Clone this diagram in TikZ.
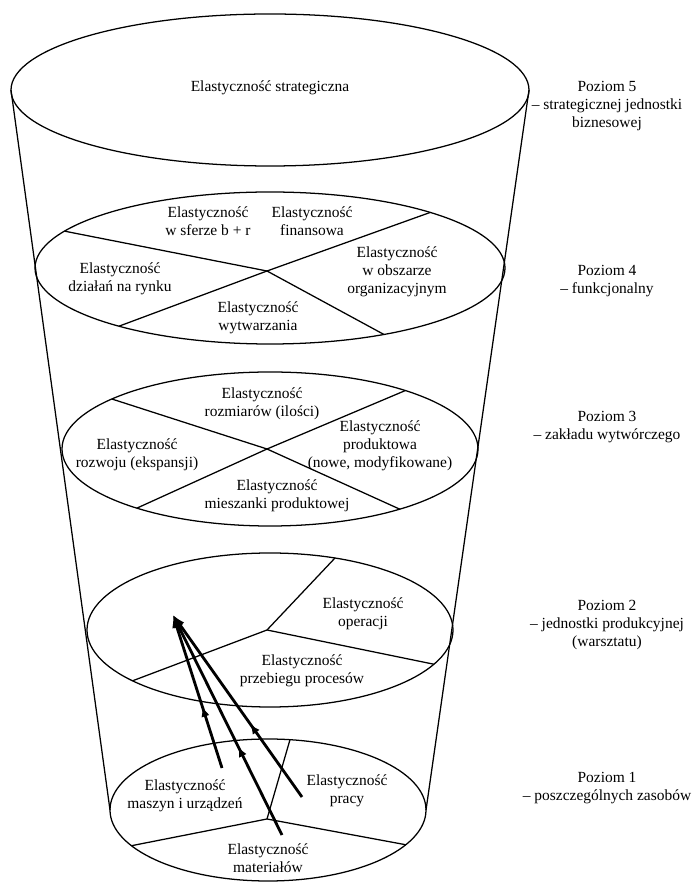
\documentclass[tikz,border=0pt]{standalone}
\usepackage{fontspec}
\setmainfont{Liberation Serif}
\usetikzlibrary{arrows.meta, calc, decorations.markings}

\begin{document}
\begin{tikzpicture}[
    x=0.025cm, y=0.025cm,
    rim/.style={line width=0.9pt},
    lbl/.style={align=center, font=\fontsize{11}{13}\selectfont, inner sep=0pt},
    flow/.style={line width=2pt, -{Latex[length=9pt,width=7pt]},
        decoration={markings, mark=at position 0.4 with {\arrow{Latex[length=7pt,width=6pt]}}},
        postaction={decorate}},
]
    \useasboundingbox (0,0) rectangle (694,882);

    % Centres of the levels
    \coordinate (c5) at (270,792);
    \coordinate (c4) at (270,614);
    \coordinate (c3) at (270,433);
    \coordinate (c2) at (270,252);
    \coordinate (c1) at (268,72);

    % Funnel sides
    \draw[rim] ($(c5)+(-259,0)$) -- ($(c1)+(-158,0)$);
    \draw[rim] ($(c5)+(259,0)$) -- ($(c1)+(158,0)$);

    % Level 5
    \draw[rim] (c5) ellipse [x radius=259, y radius=76];
    \node[lbl] (strat) at (270,794) {Elastyczność strategiczna};

    % Level 4
    \draw[rim] (c4) ellipse [x radius=235, y radius=76];
    \coordinate (j4) at (267,611);
    \draw[rim] ($(c4)+(151:235 and 76)$) -- (j4) -- ($(c4)+(299:235 and 76)$);
    \draw[rim] ($(c4)+(230:235 and 76)$) -- (j4) -- ($(c4)+(47:235 and 76)$);
    \node[lbl] (bir) at (208,661) {Elastyczność\\w sferze b + r};
    \node[lbl] (fin) at (312,661) {Elastyczność\\finansowa};
    \node[lbl] (rynek) at (120,603) {Elastyczność\\działań na rynku};
    \node[lbl] (wytw) at (258,564) {Elastyczność\\wytwarzania};
    \node[lbl] (org) at (397,610) {Elastyczność\\w obszarze\\organizacyjnym};

    % Level 3
    \draw[rim] (c3) ellipse [x radius=208, y radius=77];
    \coordinate (j3) at (267,433);
    \draw[rim] ($(c3)+(139.5:208 and 77)$) -- (j3) -- ($(c3)+(308.6:208 and 77)$);
    \draw[rim] ($(c3)+(230.2:208 and 77)$) -- (j3) -- ($(c3)+(49.4:208 and 77)$);
    \node[lbl] (rozm) at (262,478) {Elastyczność\\rozmiarów (ilości)};
    \node[lbl] (rozw) at (137,427) {Elastyczność\\rozwoju (ekspansji)};
    \node[lbl] (prod) at (380,436) {Elastyczność\\produktowa\\(nowe, modyfikowane)};
    \node[lbl] (miesz) at (277,386) {Elastyczność\\mieszanki produktowej};

    % Level 2
    \draw[rim] (c2) ellipse [x radius=183, y radius=77];
    \coordinate (j2) at (267,252);
    \draw[rim] ($(c2)+(69.2:183 and 77)$) -- (j2);
    \draw[rim] ($(c2)+(333.6:183 and 77)$) -- (j2) -- ($(c2)+(221.3:183 and 77)$);
    \node[lbl] (oper) at (363,268) {Elastyczność\\operacji};
    \node[lbl] (proc) at (302,211) {Elastyczność\\przebiegu procesów};

    % Level 1
    \draw[rim] (c1) ellipse [x radius=158, y radius=71];
    \coordinate (j1) at (267,63);
    \draw[rim] ($(c1)+(82:158 and 71)$) -- (j1);
    \draw[rim] ($(c1)+(210.2:158 and 71)$) -- (j1) -- ($(c1)+(330.7:158 and 71)$);
    \node[lbl] (masz) at (185,86) {Elastyczność\\maszyn i urządzeń};
    \node[lbl] (praca) at (347,91) {Elastyczność\\pracy};
    \node[lbl] (mat) at (268,24) {Elastyczność\\materiałów};

    % Resources feeding the production unit
    \coordinate (tip) at (173,267);
    \coordinate (fromMasz) at (222,114);
    \coordinate (fromMat) at (282,47);
    \coordinate (fromPraca) at (302,85);
    \draw[flow] (fromMasz) -- (tip);
    \draw[flow] (fromMat) -- (tip);
    \draw[flow] (fromPraca) -- (tip);

    % Levels
    \node[lbl] (p5) at (607,776) {Poziom 5\\– strategicznej jednostki\\biznesowej};
    \node[lbl] (p4) at (607,601) {Poziom 4\\– funkcjonalny};
    \node[lbl] (p3) at (607,455) {Poziom 3\\– zakładu wytwórczego};
    \node[lbl] (p2) at (607,257) {Poziom 2\\– jednostki produkcyjnej\\(warsztatu)};
    \node[lbl] (p1) at (607,94) {Poziom 1\\– poszczególnych zasobów};
\end{tikzpicture}
\end{document}
